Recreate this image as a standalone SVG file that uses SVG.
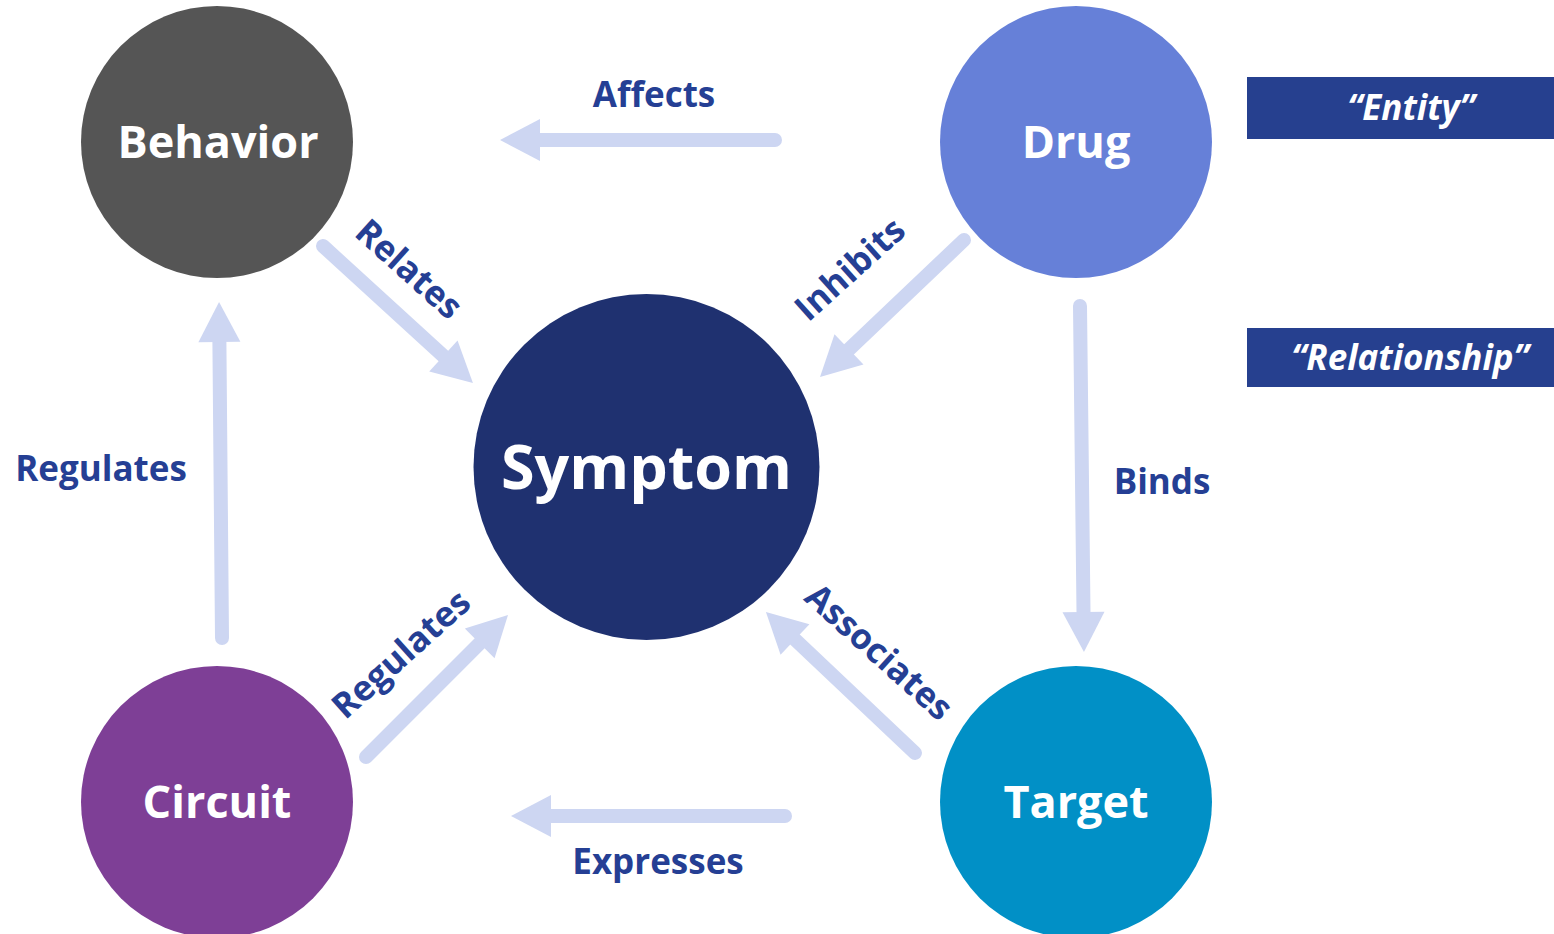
<svg xmlns="http://www.w3.org/2000/svg" width="1554" height="934" viewBox="0 0 1554 934">
  <style>
    .node-label { font-family: "Open Sans", "Noto Sans", sans-serif; font-weight: 700; fill: #ffffff; text-anchor: middle; dominant-baseline: central; }
    .edge-label { font-family: "Open Sans", "Noto Sans", sans-serif; font-weight: 700; font-size: 35px; fill: #253f94; text-anchor: middle; dominant-baseline: central; }
    .edge { fill: none; stroke: #cdd6f2; stroke-width: 14; stroke-linecap: round; marker-end: url(#head); }
    .legend-box { fill: #26408f; }
    .legend-text { font-family: "Open Sans", "Noto Sans", sans-serif; font-weight: 700; font-style: italic; font-size: 35px; fill: #ffffff; text-anchor: middle; dominant-baseline: central; }
  </style>
  <defs>
    <marker id="head" markerUnits="userSpaceOnUse" viewBox="0 -21 40 42" refX="0" refY="0" markerWidth="40" markerHeight="42" orient="auto" overflow="visible">
      <path d="M0,-21 L40,0 L0,21 Z" fill="#cdd6f2"/>
    </marker>
  </defs>

  <rect width="1554" height="934" fill="#ffffff"/>

  <!-- connectors -->
  <g id="connectors">
    <path class="edge" d="M775,140 L540,140"/>
    <path class="edge" d="M323,246 L443.4,356"/>
    <path class="edge" d="M964,240 L849,349.4"/>
    <path class="edge" d="M222,638 L219.4,342"/>
    <path class="edge" d="M1080,306 L1083.5,612"/>
    <path class="edge" d="M366,757 L479.7,643.3"/>
    <path class="edge" d="M915,753 L795,639.5"/>
    <path class="edge" d="M785,816 L551,816"/>
  </g>

  <!-- connector labels -->
  <g id="edge-labels">
    <text class="edge-label" x="654" y="93">Affects</text>
    <text class="edge-label" transform="translate(410,268) rotate(42)">Relates</text>
    <text class="edge-label" transform="translate(849,268) rotate(-42)">Inhibits</text>
    <text class="edge-label" x="101" y="467">Regulates</text>
    <text class="edge-label" x="1162" y="480">Binds</text>
    <text class="edge-label" transform="translate(400,653) rotate(-42)">Regulates</text>
    <text class="edge-label" transform="translate(880,651) rotate(42)">Associates</text>
    <text class="edge-label" x="658" y="860">Expresses</text>
  </g>

  <!-- entity nodes -->
  <g id="node-behavior">
    <circle cx="217" cy="142" r="136" fill="#555555"/>
    <text class="node-label" x="218" y="140" font-size="45">Behavior</text>
  </g>
  <g id="node-drug">
    <circle cx="1076" cy="142" r="136" fill="#6680d8"/>
    <text class="node-label" x="1076" y="140" font-size="45">Drug</text>
  </g>
  <g id="node-symptom">
    <circle cx="646.5" cy="467" r="173" fill="#1f3170"/>
    <text class="node-label" x="646.5" y="465" font-size="61">Symptom</text>
  </g>
  <g id="node-circuit">
    <circle cx="217" cy="802" r="136" fill="#7e3f96"/>
    <text class="node-label" x="217" y="800" font-size="45">Circuit</text>
  </g>
  <g id="node-target">
    <circle cx="1076" cy="802" r="136" fill="#0190c6"/>
    <text class="node-label" x="1076" y="800" font-size="45">Target</text>
  </g>

  <!-- legend -->
  <g id="legend-entity">
    <rect class="legend-box" x="1247" y="77" width="307" height="62"/>
    <text class="legend-text" x="1411" y="106">“Entity”</text>
  </g>
  <g id="legend-relationship">
    <rect class="legend-box" x="1247" y="328" width="307" height="59"/>
    <text class="legend-text" x="1410" y="356">“Relationship”</text>
  </g>
</svg>
